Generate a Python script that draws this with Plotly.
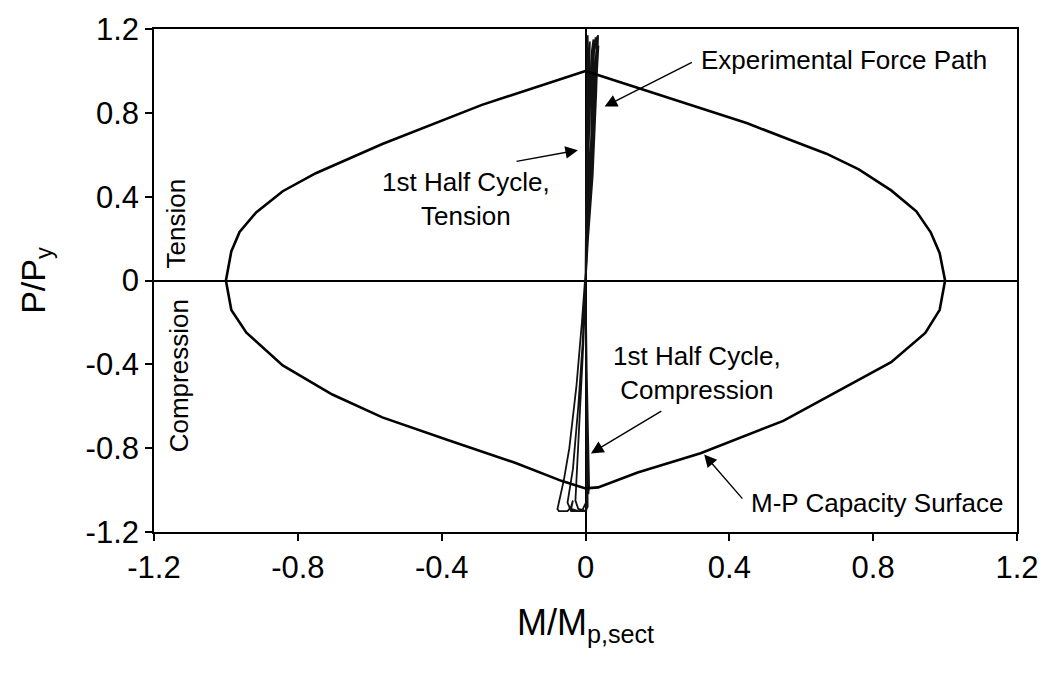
import plotly.graph_objects as go

# M-P capacity surface (normalised moment vs normalised axial load), closed loop
cap_m = [0.0, 0.15, 0.29, 0.45, 0.57, 0.67, 0.76, 0.85, 0.92, 0.96, 0.985, 1.0,
         0.985, 0.945, 0.85, 0.70, 0.55, 0.32, 0.145, 0.035, 0.0,
         -0.067, -0.196, -0.381, -0.565, -0.704, -0.842, -0.943, -0.985, -1.0,
         -0.985, -0.962, -0.916, -0.842, -0.75, -0.565, -0.288, 0.0]
cap_p = [1.0, 0.916, 0.84, 0.75, 0.67, 0.605, 0.53, 0.43, 0.33, 0.23, 0.13, 0.0,
         -0.14, -0.25, -0.39, -0.53, -0.67, -0.824, -0.916, -0.987, -0.992,
         -0.956, -0.87, -0.762, -0.653, -0.544, -0.405, -0.249, -0.141, 0.0,
         0.139, 0.232, 0.325, 0.426, 0.512, 0.651, 0.838, 1.0]

# Measured force path over the loading cycles
path_m = [0.0, 0.002, 0.006, 0.008, 0.005, 0.001, 0.0,
          0.003, 0.008, 0.010, 0.008, 0.004, 0.0,
          0.006, 0.014, 0.018, 0.022, 0.016, 0.004, 0.0,
          -0.006, -0.012, -0.022, -0.028, -0.020, 0.002, 0.006, 0.003, 0.0,
          0.008, 0.020, 0.028, 0.032, 0.035, 0.030, 0.020, 0.002, 0.0,
          -0.010, -0.025, -0.045, -0.060, -0.070, -0.078, -0.074, -0.050,
          -0.040, -0.035, -0.040, -0.020, 0.0, 0.006, 0.004, 0.001, 0.0,
          0.010, 0.025, 0.030, 0.028, 0.024, 0.015, 0.0,
          0.004, 0.008, 0.006, 0.005, 0.003, 0.0,
          -0.008, -0.020, -0.035, -0.045, -0.050, -0.040, -0.010, 0.004, 0.002, 0.0,
          0.012, 0.026, 0.036, 0.034, 0.025, 0.010, 0.0,
          0.002, 0.005, 0.012, 0.010, 0.004, 0.0,
          0.006, 0.016, 0.024, 0.030, 0.033, 0.026, 0.012, 0.0,
          0.004, 0.010, 0.018, 0.014, 0.006, 0.0]
path_p = [0.0, 0.40, 0.80, 1.00, 0.60, 0.10, 0.0,
          -0.40, -0.80, -0.98, -1.02, -0.50, 0.0,
          0.50, 0.90, 1.10, 1.15, 0.70, 0.10, 0.0,
          -0.30, -0.50, -0.90, -1.05, -1.09, -1.10, -1.00, -0.50, 0.0,
          0.40, 0.80, 1.00, 1.16, 1.17, 0.90, 0.50, 0.05, 0.0,
          -0.20, -0.50, -0.80, -0.95, -1.02, -1.09, -1.10, -1.10,
          -1.08, -1.05, -1.09, -1.10, -1.10, -1.08, -0.70, -0.20, 0.0,
          0.50, 0.95, 1.10, 1.16, 1.10, 0.60, 0.0,
          0.40, 0.90, 1.17, 1.12, 0.60, 0.0,
          -0.30, -0.60, -0.90, -1.00, -1.06, -1.10, -1.10, -1.05, -0.50, 0.0,
          0.40, 0.80, 1.12, 1.08, 0.70, 0.30, 0.0,
          0.30, 0.70, 1.14, 0.90, 0.40, 0.0,
          0.30, 0.60, 0.85, 1.05, 1.15, 0.95, 0.50, 0.0,
          0.35, 0.75, 1.10, 0.95, 0.45, 0.0]

tick_vals = [-1.2, -0.8, -0.4, 0, 0.4, 0.8, 1.2]
tick_text = ["-1.2", "-0.8", "-0.4", "0", "0.4", "0.8", "1.2"]

FONT = "Arial, Liberation Sans, sans-serif"

fig = go.Figure()
fig.add_trace(go.Scatter(x=path_m, y=path_p, mode="lines",
                         line=dict(color="#111111", width=1.8),
                         hoverinfo="skip", showlegend=False))
fig.add_trace(go.Scatter(x=cap_m, y=cap_p, mode="lines",
                         line=dict(color="black", width=2.6),
                         hoverinfo="skip", showlegend=False))

axis_common = dict(
    range=[-1.2, 1.2], tickmode="array", tickvals=tick_vals, ticktext=tick_text,
    showgrid=False, zeroline=True, zerolinecolor="black", zerolinewidth=2,
    showline=True, linecolor="black", linewidth=1.6, mirror=True,
    ticks="outside", ticklen=7, tickwidth=1.5, tickcolor="black",
    tickfont=dict(family=FONT, size=31, color="black"),
)

fig.update_xaxes(**axis_common,
                 title=dict(text="M/M<sub>p,sect</sub>",
                            font=dict(family=FONT, size=36, color="black"),
                            standoff=26))
fig.update_yaxes(**axis_common,
                 title=dict(text="P/P<sub>y</sub>",
                            font=dict(family=FONT, size=34, color="black"),
                            standoff=30))

ann_font = dict(family=FONT, size=26, color="black")
arrow_style = dict(showarrow=True, arrowhead=2, arrowsize=1.8, arrowwidth=1.4,
                   arrowcolor="black", axref="x", ayref="y", text="")

annotations = [
    dict(x=0.315, y=1.05, text="Experimental Force Path", xanchor="left",
         yanchor="middle", showarrow=False, font=ann_font),
    dict(x=0.053, y=0.83, ax=0.30, ay=1.045, **arrow_style),
    dict(x=-0.333, y=0.39, text="1st Half Cycle,<br>Tension", xanchor="center",
         yanchor="middle", showarrow=False, font=ann_font),
    dict(x=-0.021, y=0.622, ax=-0.196, ay=0.567, **arrow_style),
    dict(x=0.31, y=-0.44, text="1st Half Cycle,<br>Compression", xanchor="center",
         yanchor="middle", showarrow=False, font=ann_font),
    dict(x=0.015, y=-0.825, ax=0.215, ay=-0.619, **arrow_style),
    dict(x=0.455, y=-1.06, text="M-P Capacity Surface", xanchor="left",
         yanchor="middle", showarrow=False, font=ann_font),
    dict(x=0.33, y=-0.83, ax=0.44, ay=-1.048, **arrow_style),
    dict(x=-1.14, y=0.27, text="Tension", textangle=-90, xanchor="center",
         yanchor="middle", showarrow=False, font=ann_font),
    dict(x=-1.132, y=-0.455, text="Compression", textangle=-90, xanchor="center",
         yanchor="middle", showarrow=False, font=ann_font),
]

fig.update_layout(
    width=1051, height=687,
    margin=dict(l=154, r=30, t=18, b=155),
    paper_bgcolor="white", plot_bgcolor="white",
    annotations=annotations,
    showlegend=False,
)

fig.write_html("out.html")
